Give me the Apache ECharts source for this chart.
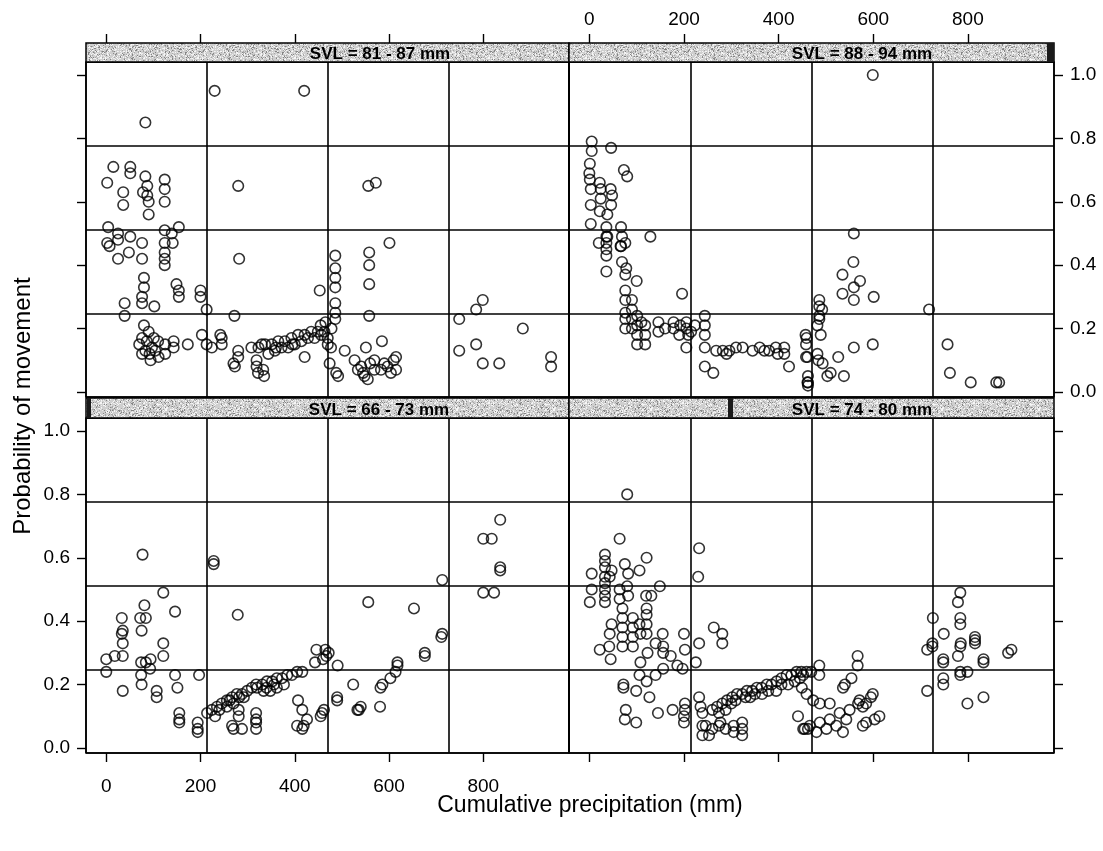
<!DOCTYPE html>
<html>
<head>
<meta charset="utf-8">
<script src="https://cdn.jsdelivr.net/npm/echarts@6.0.0/dist/echarts.min.js"></script>
<style>
html, body { margin: 0; padding: 0; background: #fff; }
#chart { width: 1103px; height: 851px; }
</style>
</head>
<body>
<div id="chart"></div>
<script>
// panel labels (top-left, top-right, bottom-left, bottom-right)
var panelNames = ['SVL = 81 - 87 mm', 'SVL = 88 - 94 mm', 'SVL = 66 - 73 mm', 'SVL = 74 - 80 mm'];
var xTicks = [0, 200, 400, 600, 800];
var yTicks = [0, 0.2, 0.4, 0.6, 0.8, 1.0];
var xTitle = 'Cumulative precipitation (mm)';
var yTitle = 'Probability of movement';

// [cumulative precipitation, probability of movement]
var svl81_87 = [
	[230,0.95],[420,0.95],[83,0.85],
	[15,0.71],[51,0.71],[51,0.69],[2,0.66],[83,0.68],[124,0.67],[124,0.64],[124,0.60],[36,0.63],[36,0.59],
	[78,0.63],[87,0.65],[87,0.62],[90,0.60],[90,0.56],[280,0.65],[556,0.65],[572,0.66],
	[4,0.52],[2,0.47],[7,0.46],[25,0.50],[25,0.48],[51,0.49],[76,0.47],[25,0.42],[48,0.44],[76,0.42],
	[124,0.51],[124,0.47],[124,0.44],[124,0.42],[124,0.40],[139,0.50],[141,0.47],[154,0.52],[282,0.42],
	[486,0.43],[486,0.39],[486,0.36],[486,0.33],[486,0.28],[486,0.25],[486,0.23],
	[558,0.44],[558,0.40],[558,0.34],[558,0.24],[601,0.47],[453,0.32],
	[80,0.36],[80,0.33],[76,0.30],[76,0.28],[39,0.28],[39,0.24],[102,0.27],
	[149,0.34],[154,0.32],[154,0.30],[200,0.32],[200,0.30],[213,0.26],[272,0.24],
	[749,0.23],[785,0.26],[799,0.29],[749,0.13],[785,0.15],[799,0.09],[834,0.09],[884,0.20],[944,0.11],[944,0.08],
	[80,0.21],[90,0.19],[76,0.17],[101,0.17],[97,0.14],[83,0.13],[104,0.13],[76,0.12],[94,0.10],[111,0.11],
	[125,0.15],[125,0.12],[143,0.16],[143,0.14],[173,0.15],[70,0.15],[86,0.16],[110,0.16],[92,0.12],
	[203,0.18],[213,0.15],[224,0.14],[242,0.18],[245,0.17],[245,0.15],
	[270,0.09],[273,0.08],[280,0.13],[280,0.11],[319,0.08],[322,0.06],[335,0.05],[319,0.10],[333,0.07],
	[308,0.14],[323,0.14],[337,0.15],[351,0.15],[365,0.16],[379,0.16],[393,0.17],[407,0.18],[421,0.18],
	[435,0.19],[449,0.19],[463,0.19],[344,0.12],[358,0.13],[372,0.14],[386,0.14],[400,0.15],[414,0.16],
	[428,0.17],[442,0.17],[456,0.18],[470,0.17],[421,0.11],[470,0.15],[477,0.14],[455,0.21],[465,0.22],
	[478,0.20],[330,0.15],[360,0.14],[395,0.15],
	[474,0.09],[488,0.06],[492,0.05],[506,0.13],[527,0.10],[541,0.08],[551,0.14],[555,0.04],[569,0.10],
	[585,0.16],[534,0.07],[583,0.07],[597,0.08],[615,0.11],[615,0.07],[604,0.06],[569,0.07],[548,0.05],
	[560,0.09],[545,0.06],[590,0.09],[610,0.10]
];
var svl88_94 = [
	[5,0.79],[5,0.76],[46,0.77],[1,0.72],[0,0.69],[1,0.67],[3,0.64],[3,0.59],[3,0.53],
	[22,0.66],[24,0.64],[24,0.61],[22,0.57],[38,0.56],[45,0.64],[48,0.62],[46,0.59],
	[36,0.52],[36,0.49],[36,0.47],[36,0.45],[36,0.43],[36,0.38],[73,0.70],[80,0.68],[20,0.47],[38,0.49],
	[67,0.52],[69,0.49],[76,0.47],[67,0.46],[69,0.41],[78,0.39],[76,0.37],[100,0.35],[76,0.32],[66,0.46],
	[129,0.49],[196,0.31],
	[76,0.29],[90,0.29],[76,0.25],[90,0.26],[76,0.23],[101,0.24],[76,0.20],[101,0.21],[101,0.18],[101,0.15],
	[118,0.21],[118,0.18],[118,0.15],[146,0.22],[146,0.19],[178,0.22],[178,0.20],[192,0.21],[205,0.22],
	[205,0.20],[209,0.18],[205,0.14],[223,0.21],[244,0.24],[244,0.21],[244,0.18],[244,0.14],
	[90,0.23],[90,0.20],[110,0.22],[160,0.20],[190,0.18],[215,0.19],
	[268,0.13],[282,0.13],[296,0.13],[310,0.14],[324,0.14],[345,0.13],[370,0.13],[380,0.13],[394,0.14],
	[412,0.14],[422,0.08],[398,0.12],[412,0.12],[290,0.12],[360,0.14],[244,0.08],[262,0.06],
	[457,0.18],[459,0.17],[461,0.11],[461,0.03],[462,0.02],
	[486,0.29],[486,0.27],[486,0.24],[486,0.23],[482,0.21],[489,0.18],[492,0.26],
	[458,0.15],[458,0.11],[482,0.12],[484,0.10],[493,0.09],
	[462,0.05],[462,0.03],[503,0.05],[510,0.06],[526,0.11],[538,0.05],[559,0.14],[599,0.15],
	[535,0.37],[558,0.41],[572,0.35],[559,0.33],[559,0.29],[535,0.31],[601,0.30],[559,0.50],[599,1.00],
	[718,0.26],[757,0.15],[762,0.06],[806,0.03],[860,0.03],[866,0.03]
];
var svl66_73 = [
	[77,0.61],[228,0.59],[228,0.58],[279,0.42],[121,0.49],[146,0.43],
	[81,0.45],[72,0.41],[84,0.41],[75,0.37],[33,0.41],[35,0.37],[33,0.36],[35,0.33],[35,0.29],[35,0.18],
	[0,0.28],[0,0.24],[18,0.29],[121,0.33],[121,0.29],[74,0.27],[84,0.27],[74,0.23],[75,0.20],[94,0.28],[93,0.25],
	[107,0.18],[107,0.16],[146,0.23],[151,0.19],[155,0.11],[155,0.09],[155,0.08],[197,0.23],[194,0.08],[194,0.06],[194,0.05],
	[556,0.46],[653,0.44],[713,0.53],[713,0.36],[711,0.35],[676,0.30],[676,0.29],
	[800,0.66],[818,0.66],[836,0.72],[836,0.57],[836,0.56],[800,0.49],[823,0.49],
	[446,0.31],[465,0.31],[467,0.29],[460,0.28],[443,0.27],[472,0.30],[491,0.26],[524,0.20],[490,0.16],[490,0.15],
	[536,0.12],[540,0.13],[533,0.12],[581,0.13],[582,0.19],[586,0.20],[603,0.22],[614,0.24],[618,0.26],[618,0.27],
	[455,0.10],[458,0.11],[462,0.12],[407,0.15],[416,0.12],[426,0.09],[419,0.07],[405,0.07],[416,0.06],
	[214,0.11],[224,0.12],[235,0.13],[245,0.14],[256,0.15],[267,0.16],[277,0.17],[288,0.17],[299,0.18],[309,0.19],
	[320,0.19],[331,0.20],[341,0.21],[352,0.21],[362,0.22],[373,0.22],[384,0.23],[394,0.23],[405,0.24],[416,0.24],
	[231,0.10],[256,0.13],[270,0.14],[292,0.16],[334,0.18],[348,0.18],[362,0.19],[377,0.20],[240,0.12],[262,0.15],
	[282,0.16],[318,0.20],[340,0.19],[356,0.20],
	[267,0.07],[270,0.06],[281,0.10],[281,0.12],[288,0.06],[318,0.11],[318,0.09],[318,0.08],[318,0.06]
];
var svl74_80 = [
	[80,0.80],[64,0.66],[232,0.63],[230,0.54],
	[33,0.61],[33,0.59],[33,0.57],[33,0.54],[33,0.52],[33,0.50],[33,0.48],[33,0.46],
	[5,0.55],[5,0.50],[1,0.46],[47,0.56],[43,0.54],[75,0.58],[82,0.55],[106,0.56],[121,0.60],
	[64,0.50],[80,0.51],[82,0.48],[64,0.47],[120,0.48],[131,0.48],[149,0.51],
	[70,0.44],[70,0.41],[70,0.38],[70,0.35],[70,0.32],[92,0.41],[92,0.38],[92,0.35],[92,0.32],
	[121,0.44],[121,0.42],[121,0.39],[121,0.36],[106,0.39],[108,0.36],[123,0.30],[108,0.27],
	[47,0.39],[43,0.36],[42,0.32],[22,0.31],[45,0.28],[155,0.36],[156,0.32],[156,0.30],[140,0.33],
	[200,0.36],[202,0.31],[225,0.27],[197,0.25],[186,0.26],[172,0.29],[232,0.33],[263,0.38],[281,0.36],[281,0.33],
	[156,0.25],[140,0.23],[121,0.21],[106,0.23],[72,0.20],[72,0.19],[99,0.18],[127,0.16],[145,0.11],[176,0.12],
	[77,0.12],[75,0.09],[99,0.08],[202,0.14],[202,0.12],[200,0.10],[200,0.08],
	[232,0.16],[235,0.13],[239,0.11],[239,0.07],[239,0.04],
	[260,0.12],[270,0.13],[281,0.14],[291,0.15],[302,0.16],[312,0.17],[323,0.17],[333,0.18],[344,0.18],[354,0.19],
	[364,0.19],[375,0.20],[385,0.20],[396,0.21],[406,0.22],[417,0.23],[427,0.23],[438,0.24],[448,0.24],[459,0.24],
	[469,0.24],[274,0.11],[288,0.12],[309,0.15],[330,0.16],[350,0.17],[378,0.18],[406,0.20],[434,0.21],[420,0.20],
	[445,0.22],[395,0.18],[365,0.17],[300,0.14],[340,0.16],
	[246,0.07],[253,0.04],[260,0.06],[274,0.07],[288,0.06],[305,0.07],[305,0.05],[323,0.08],[323,0.06],[323,0.04],[277,0.08],
	[441,0.10],[455,0.06],[462,0.06],
	[486,0.26],[486,0.23],[452,0.23],[449,0.19],[459,0.17],[473,0.15],[487,0.14],[508,0.14],
	[567,0.29],[567,0.26],[536,0.19],[540,0.20],[554,0.22],[571,0.15],[578,0.13],[599,0.17],[595,0.16],[585,0.14],
	[613,0.10],[603,0.09],[585,0.08],[578,0.07],
	[466,0.07],[487,0.08],[508,0.09],[529,0.11],[550,0.12],[568,0.14],[480,0.05],[501,0.06],[522,0.07],[543,0.09],
	[536,0.05],[452,0.06],
	[726,0.41],[749,0.36],[714,0.31],[725,0.33],[725,0.32],[779,0.46],[784,0.49],[784,0.41],[784,0.39],[785,0.33],
	[784,0.32],[779,0.29],[815,0.35],[815,0.34],[815,0.33],[833,0.28],[833,0.27],[748,0.28],[748,0.27],[784,0.24],
	[784,0.23],[799,0.24],[892,0.31],[885,0.30],[748,0.22],[748,0.20],[714,0.18],[799,0.14],[833,0.16]
];

var FONT = '"Liberation Sans", Arial, Helvetica, sans-serif';
var xMin = -43, xMax = 982;
var yMin = -0.016, yMax = 1.041;

// 0 top-left, 1 top-right, 2 bottom-left, 3 bottom-right
var grids = [
	{ left: 86, top: 62, width: 483, height: 335 },
	{ left: 569, top: 62, width: 485, height: 335 },
	{ left: 86, top: 418, width: 483, height: 335 },
	{ left: 569, top: 418, width: 485, height: 335 }
];
grids.forEach(function(g) {
	g.show = true;
	g.borderColor = '#000';
	g.borderWidth = 1.5;
	g.backgroundColor = 'transparent';
	g.containLabel = false;
	g.outerBoundsMode = 'none';
});

function dataX(gi, pos, showTick, showLabel) {
	return {
		type: 'value', gridIndex: gi, min: xMin, max: xMax, position: pos,
		offset: pos === 'top' ? 19 : 0,
		axisLine: { show: false, onZero: false },
		splitLine: { show: false },
		axisTick: { show: showTick, customValues: xTicks, length: 9, lineStyle: { color: '#000', width: 1.4 } },
		axisLabel: {
			show: showLabel, customValues: xTicks, margin: pos === 'top' ? 14 : 24,
			color: '#000', fontSize: 19, fontFamily: FONT
		}
	};
}

function dataY(gi, pos, showTick, showLabel) {
	return {
		type: 'value', gridIndex: gi, min: yMin, max: yMax, position: pos,
		axisLine: { show: false, onZero: false },
		splitLine: { show: false },
		axisTick: { show: showTick, customValues: yTicks, length: 9, lineStyle: { color: '#000', width: 1.4 } },
		axisLabel: {
			show: showLabel, customValues: yTicks, margin: 16,
			color: '#000', fontSize: 19, fontFamily: FONT,
			formatter: function(v) { return v.toFixed(1); }
		}
	};
}

// reference lines cutting every panel into 4 x 4 cells
function cellAxis(gi) {
	return {
		type: 'value', gridIndex: gi, min: 0, max: 4, interval: 1,
		axisLine: { show: false, onZero: false },
		axisTick: { show: false },
		axisLabel: { show: false },
		splitLine: { show: true, lineStyle: { color: '#000', width: 1.6 } }
	};
}

var xAxes = [
	dataX(0, 'top', true, false),
	dataX(1, 'top', true, true),
	dataX(2, 'bottom', true, true),
	dataX(3, 'bottom', true, false),
	cellAxis(0), cellAxis(1), cellAxis(2), cellAxis(3)
];
var yAxes = [
	dataY(0, 'left', true, false),
	dataY(1, 'right', true, true),
	dataY(2, 'left', true, true),
	dataY(3, 'right', true, false),
	cellAxis(0), cellAxis(1), cellAxis(2), cellAxis(3)
];

var panelData = [svl81_87, svl88_94, svl66_73, svl74_80];
var series = panelData.map(function(d, i) {
	return {
		type: 'scatter', name: panelNames[i], xAxisIndex: i, yAxisIndex: i,
		symbol: 'circle', symbolSize: 10.5,
		itemStyle: { color: 'rgba(0,0,0,0)', borderColor: '#000', borderWidth: 1.6 },
		data: d
	};
});

// speckled grey for the strips
function stripTexture() {
	var c = document.createElement('canvas');
	c.width = 97; c.height = 23;
	var ctx = c.getContext('2d');
	ctx.fillStyle = '#cfcfcf';
	ctx.fillRect(0, 0, c.width, c.height);
	var s = 12345;
	function next() { s = (s * 16807) % 2147483647; return s; }
	for (var i = 0; i < 1300; i++) {
		var x = next() % c.width, y = next() % c.height, g = next() % 4;
		ctx.fillStyle = ['#858585', '#a8a8a8', '#ececec', '#f6f6f6'][g];
		ctx.fillRect(x, y, 1, 1);
	}
	return c;
}
var tex = stripTexture();

var strips = [
	{ x: 86, y: 43, w: 483, h: 19, tx: 380, ty: 54, marks: [] },
	{ x: 569, y: 43, w: 485, h: 19, tx: 862, ty: 54, marks: [[1047, 7]] },
	{ x: 86, y: 398, w: 483, h: 20, tx: 379, ty: 410, marks: [[87, 4]] },
	{ x: 569, y: 398, w: 485, h: 20, tx: 862, ty: 410, marks: [[728, 5]] }
];
var graphics = [];
strips.forEach(function(s, i) {
	graphics.push({
		type: 'rect', z: 10,
		shape: { x: s.x, y: s.y, width: s.w, height: s.h },
		style: { fill: { type: 'pattern', image: tex, repeat: 'repeat' }, stroke: '#000', lineWidth: 1.5 }
	});
	s.marks.forEach(function(m) {
		graphics.push({
			type: 'rect', z: 11,
			shape: { x: m[0], y: s.y, width: m[1], height: s.h },
			style: { fill: '#1a1a1a' }
		});
	});
	graphics.push({
		type: 'text', z: 12,
		style: {
			text: panelNames[i], x: s.tx, y: s.ty,
			textAlign: 'center', textVerticalAlign: 'middle', align: 'center', verticalAlign: 'middle',
			font: 'bold 17px ' + FONT, fill: '#000'
		}
	});
});
graphics.push({
	type: 'text', z: 12,
	style: {
		text: xTitle, x: 590, y: 806,
		textAlign: 'center', textVerticalAlign: 'middle', align: 'center', verticalAlign: 'middle',
		font: '23px ' + FONT, fill: '#000'
	}
});
graphics.push({
	type: 'text', z: 12, x: 23, y: 406, rotation: Math.PI / 2,
	style: {
		text: yTitle, x: 0, y: 0,
		textAlign: 'center', textVerticalAlign: 'middle', align: 'center', verticalAlign: 'middle',
		font: '24px ' + FONT, fill: '#000'
	}
});

var chart = echarts.init(document.getElementById('chart'), null, { renderer: 'canvas' });
chart.setOption({
	animation: false,
	backgroundColor: '#fff',
	grid: grids,
	xAxis: xAxes,
	yAxis: yAxes,
	series: series,
	graphic: graphics
});
</script>
</body>
</html>
